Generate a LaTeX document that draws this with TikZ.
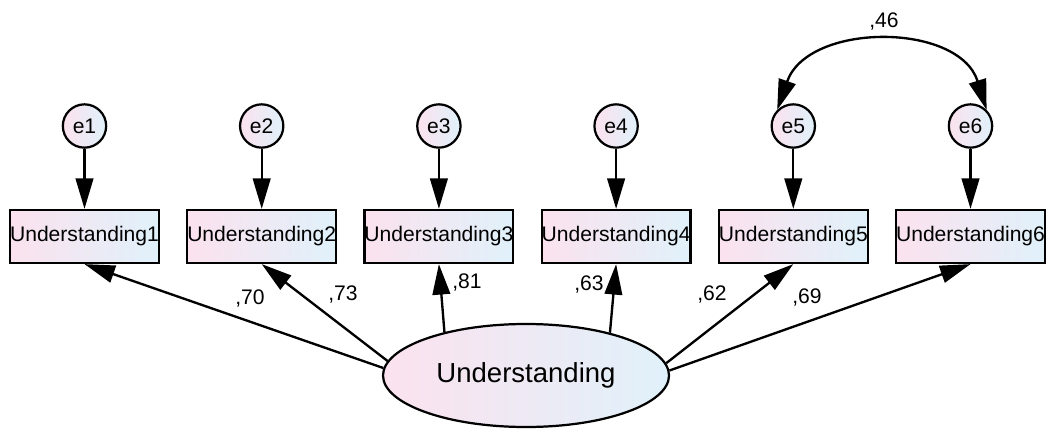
\documentclass[tikz,border=0pt]{standalone}
\usepackage{fontspec}
\setmainfont{Liberation Sans}
\usetikzlibrary{arrows.meta,shapes.geometric}
\definecolor{pinkfill}{HTML}{FBE2EE}
\definecolor{bluefill}{HTML}{E0F1FA}
\tikzset{
  obs/.style={draw, line width=1.9pt, rectangle, minimum width=4.35cm, minimum height=1.59cm,
              inner sep=0pt, left color=pinkfill, right color=bluefill, font=\fontsize{18}{21}\selectfont},
  err/.style={draw, line width=1.9pt, circle, minimum size=1.3cm, inner sep=0pt,
              left color=pinkfill, right color=bluefill, font=\fontsize{18}{21}\selectfont},
  lat/.style={draw, line width=1.9pt, ellipse, minimum width=8.58cm, minimum height=3.09cm,
              inner sep=0pt, left color=pinkfill, right color=bluefill, font=\fontsize{23.5}{28}\selectfont},
  tip/.tip={Triangle[length=26pt,width=15pt]},
  arr/.style={line width=2pt, -tip},
  darr/.style={line width=2pt, tip-tip},
  coef/.style={font=\fontsize{18}{21}\selectfont, inner sep=0pt},
}
\begin{document}
\begin{tikzpicture}[x=0.03cm, y=-0.03cm]
  \useasboundingbox (0,0) rectangle (1049,430);

  % indicators
  \node[obs] (b1) at (84.5,236.5)  {Understanding1};
  \node[obs] (b2) at (261.7,236.5) {Understanding2};
  \node[obs] (b3) at (438.9,236.5) {Understanding3};
  \node[obs] (b4) at (616.1,236.5) {Understanding4};
  \node[obs] (b5) at (793.3,236.5) {Understanding5};
  \node[obs] (b6) at (970.5,236.5) {Understanding6};

  % error terms
  \node[err] (e1) at (84.5,126)  {e1};
  \node[err] (e2) at (261.7,126) {e2};
  \node[err] (e3) at (438.9,126) {e3};
  \node[err] (e4) at (616.1,126) {e4};
  \node[err] (e5) at (793.3,126) {e5};
  \node[err] (e6) at (970.5,126) {e6};

  % latent factor
  \node[lat] (U) at (526,375.5) {Understanding};

  % error paths
  \foreach \i in {1,...,6} \draw[arr] (e\i) -- (b\i);

  % loadings
  \draw[arr] (U.177.4) -- (b1.south);
  \draw[arr] (U.174.4) -- (b2.south);
  \draw[arr] (U.152.5) -- (b3.south);
  \draw[arr] (U.27.5)  -- (b4.south);
  \draw[arr] (U.5.6)   -- (b5.south);
  \draw[arr] (U.2.6)   -- (b6.south);

  % covariance between e5 and e6
  \draw[darr] (e5.135) .. controls (808,22) and (959,22) .. (e6.45);

  % coefficients
  \node[coef] (l1) at (250,298) {,70};
  \node[coef] (l2) at (343,294) {,73};
  \node[coef] (l3) at (467,282) {,81};
  \node[coef] (l4) at (589,284) {,63};
  \node[coef] (l5) at (712,294) {,62};
  \node[coef] (l6) at (807,297) {,69};
  \node[coef] (l7) at (884,21)  {,46};
\end{tikzpicture}
\end{document}
